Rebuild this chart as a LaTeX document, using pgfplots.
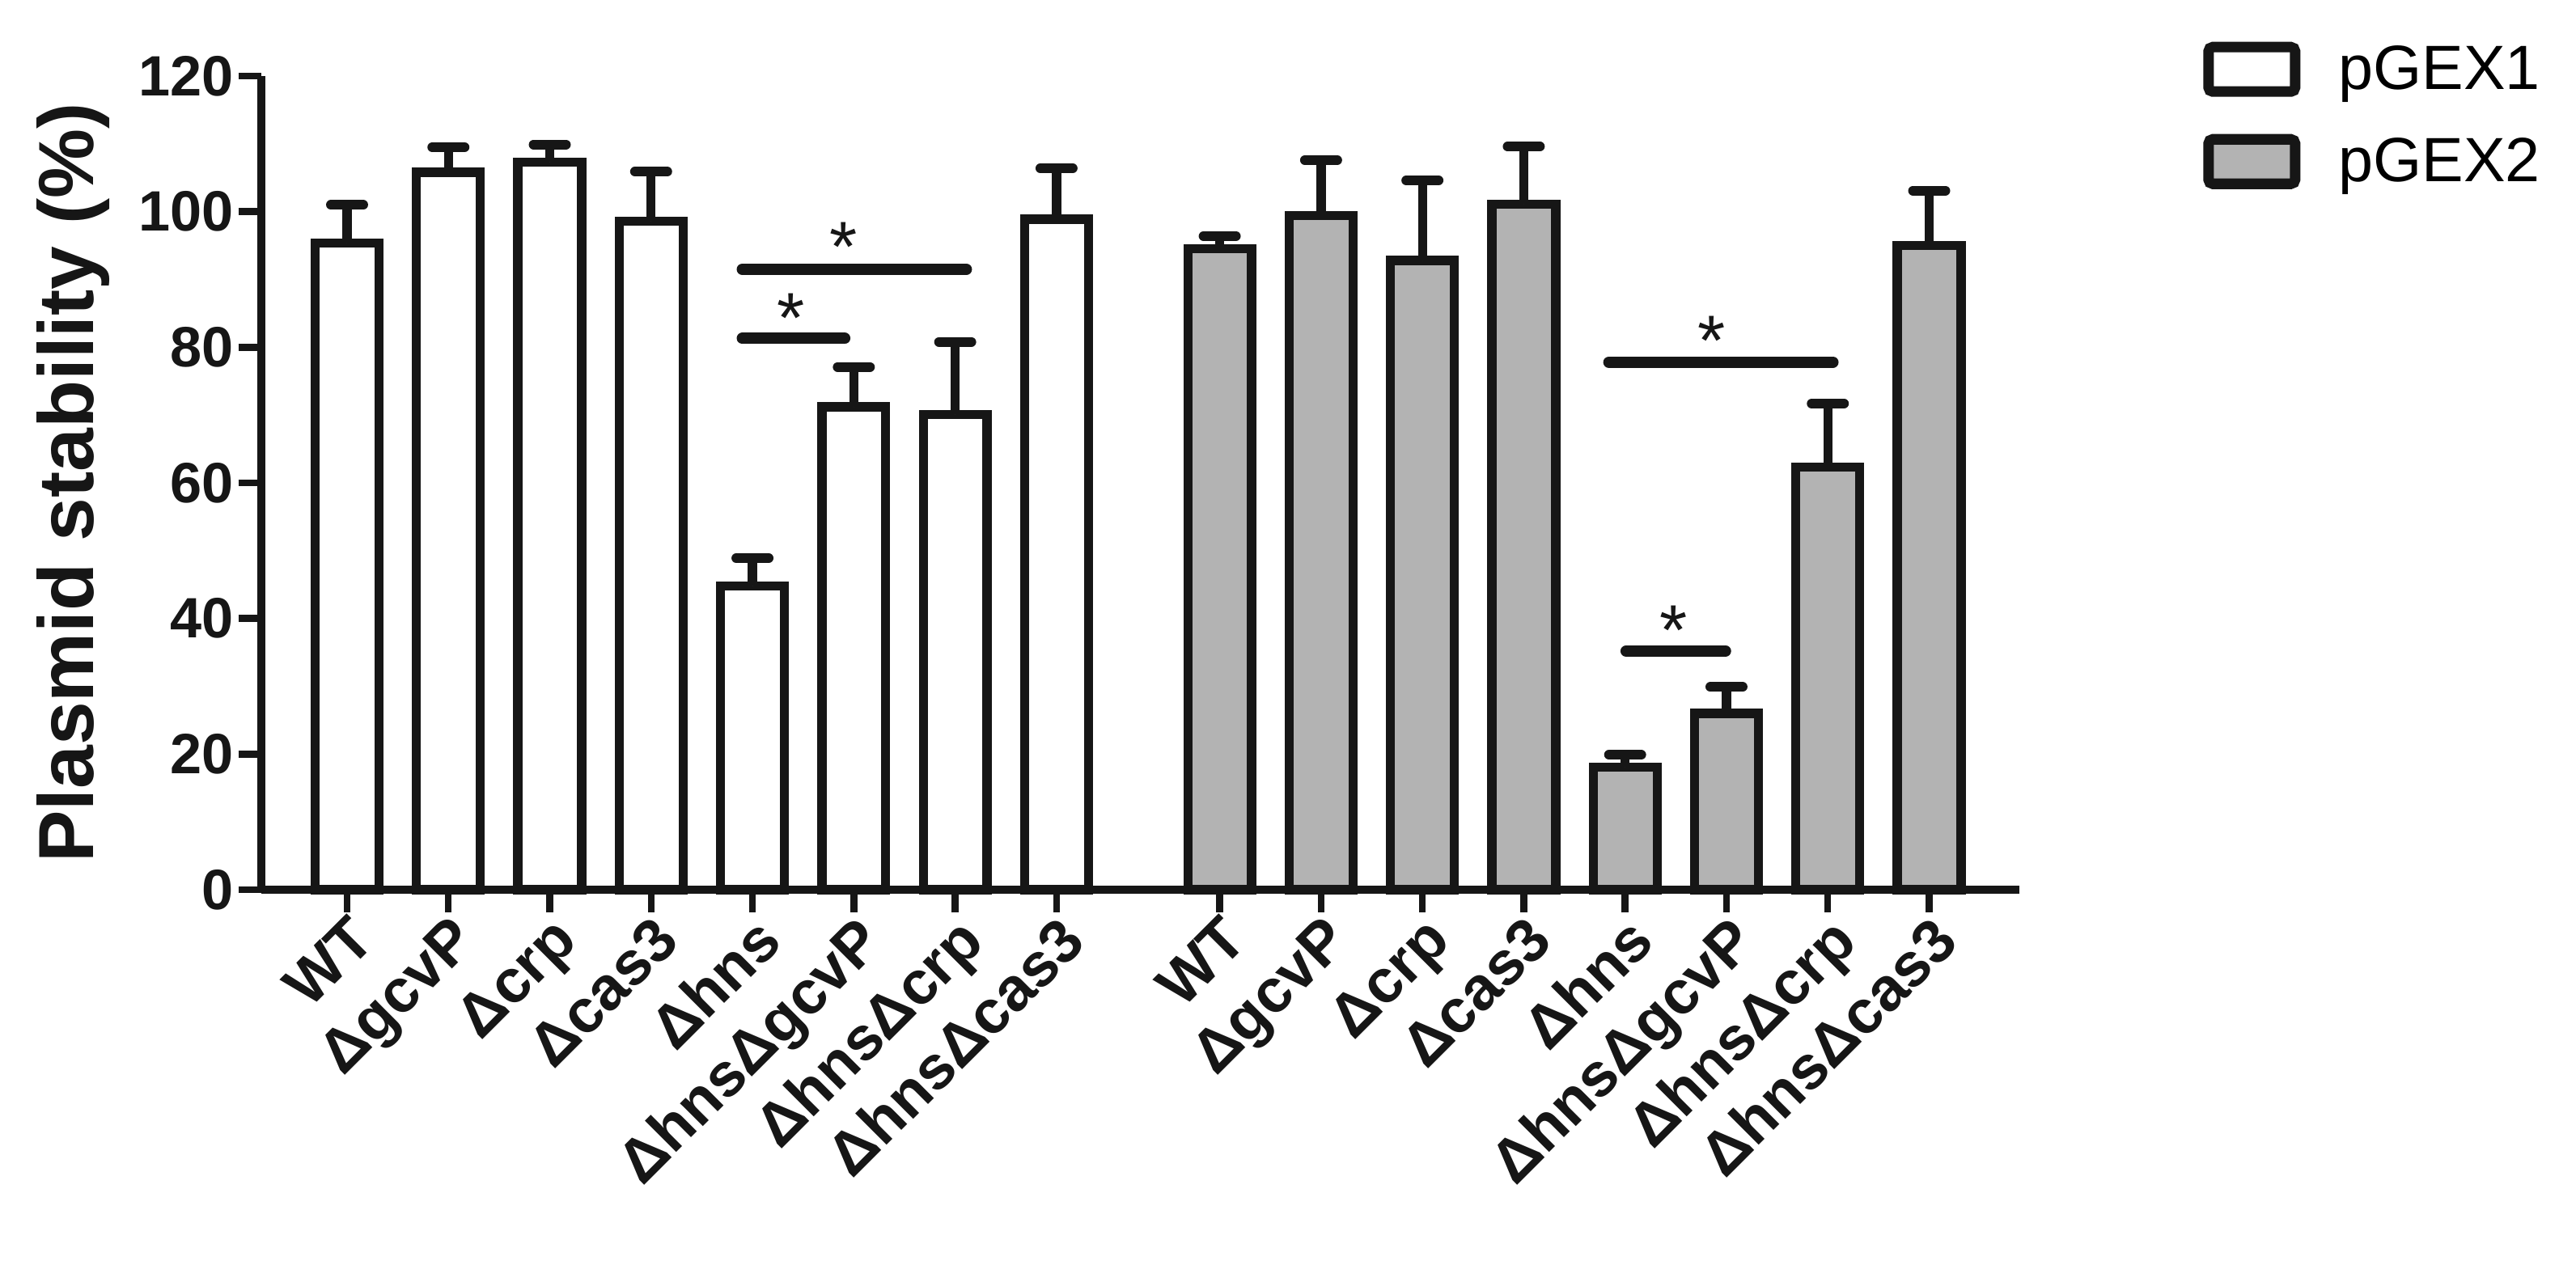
\documentclass[border=0pt]{standalone}
\usepackage{fontspec}
\setmainfont{Liberation Sans}
\usepackage{pgfplots}
\pgfplotsset{compat=1.18}
\usepackage{pgfplotstable}
\definecolor{bargray}{RGB}{179,179,179}
\definecolor{ink}{RGB}{22,22,22}

\pgfplotstableread{
x y e
0 95.4 5.6
1 105.8 3.7
2 107.3 2.6
3 98.6 7.3
4 44.8 4.1
5 71.2 5.9
6 70.1 10.7
7 98.9 7.5
}\pgexone

\pgfplotstableread{
x y e
8.61 94.5 1.9
9.61 99.4 8.2
10.61 92.8 11.8
11.61 101.1 8.5
12.61 18.1 1.8
13.61 26.0 3.9
14.61 62.3 9.4
15.61 95.0 8.1
}\pgextwo

\begin{document}
\begin{tikzpicture}
\begin{axis}[
  at={(3.23cm,4.63cm)}, anchor=south west,
  scale only axis, width=21.73cm, height=10.06cm,
  xmin=-0.846, xmax=16.5, ymin=0, ymax=120,
  clip=false,
  axis x line=bottom, axis y line=left,
  axis line style={-, line width=2.6pt, draw=ink},
  ytick={0,20,40,60,80,100,120},
  xtick={0,1,2,3,4,5,6,7,8.61,9.61,10.61,11.61,12.61,13.61,14.61,15.61},
  xticklabels={WT,ΔgcvP,Δcrp,Δcas3,Δhns,ΔhnsΔgcvP,ΔhnsΔcrp,ΔhnsΔcas3,WT,ΔgcvP,Δcrp,Δcas3,Δhns,ΔhnsΔgcvP,ΔhnsΔcrp,ΔhnsΔcas3},
  tick align=outside, major tick length=0.28cm,
  tick style={line width=2.4pt, draw=ink},
  /pgf/number format/assume math mode=true,
  yticklabel style={font=\bfseries\fontsize{20}{22}\selectfont, inner sep=0pt, xshift=-0.06cm, text=ink},
  xticklabel style={font=\bfseries\fontsize{21.5}{24}\selectfont, rotate=45, anchor=north east, inner sep=0pt, text=ink},
  ylabel={Plasmid stability (\%)},
  ylabel style={font=\bfseries\fontsize{27.5}{30}\selectfont, at={(axis description cs:-0.0953,0.5)}, anchor=base, text=ink},
  legend style={at={(axis description cs:1.1046,1.042)}, anchor=north west, draw=none, fill=none, inner sep=0pt, outer sep=0pt,
    font=\fontsize{22}{26}\selectfont, row sep=0.46cm, nodes={inner sep=0pt},
    /tikz/every odd column/.append style={column sep=0.47cm}},
  legend cell align=left,
]
\addplot[ybar, bar width=0.63, bar shift=0pt, fill=white, draw=ink, line width=3.2pt,
  legend image code/.code={\draw[line width=3.7pt, rounded corners=1.5pt, draw=ink, fill=white] (0cm,-0.275cm) rectangle (1.07cm,0.275cm);},
  error bars/.cd, y dir=plus, y explicit,
  error bar style={line width=3.2pt, draw=ink},
  error mark options={rotate=90, line width=3.4pt, mark size=0.2cm, line cap=round, draw=ink}]
  table[x=x, y=y, y error=e] {\pgexone};
\addlegendentry{pGEX1}
\addplot[ybar, bar width=0.63, bar shift=0pt, fill=bargray, draw=ink, line width=3.2pt,
  legend image code/.code={\draw[line width=3.7pt, rounded corners=1.5pt, draw=ink, fill=bargray] (0cm,-0.275cm) rectangle (1.07cm,0.275cm);},
  error bars/.cd, y dir=plus, y explicit,
  error bar style={line width=3.2pt, draw=ink},
  error mark options={rotate=90, line width=3.4pt, mark size=0.2cm, line cap=round, draw=ink}]
  table[x=x, y=y, y error=e] {\pgextwo};
\addlegendentry{pGEX2}

% significance brackets
\addplot[forget plot, draw=ink, line width=4pt, line cap=round, mark=none] coordinates {(3.90,91.5) (6.11,91.5)};
\addplot[forget plot, draw=ink, line width=4pt, line cap=round, mark=none] coordinates {(3.90,81.3) (4.91,81.3)};
\addplot[forget plot, draw=ink, line width=4pt, line cap=round, mark=none] coordinates {(12.45,77.8) (14.66,77.8)};
\addplot[forget plot, draw=ink, line width=4pt, line cap=round, mark=none] coordinates {(12.62,35.2) (13.60,35.2)};
\node[anchor=north, inner sep=0pt, font=\fontsize{25}{28}\selectfont, text=ink] at (axis cs:4.90,98.5) {*};
\node[anchor=north, inner sep=0pt, font=\fontsize{25}{28}\selectfont, text=ink] at (axis cs:4.38,88.0) {*};
\node[anchor=north, inner sep=0pt, font=\fontsize{25}{28}\selectfont, text=ink] at (axis cs:13.46,84.7) {*};
\node[anchor=north, inner sep=0pt, font=\fontsize{25}{28}\selectfont, text=ink] at (axis cs:13.09,41.9) {*};
\end{axis}
\pgfresetboundingbox
\path[use as bounding box] (0,0) rectangle (31.84,15.63);
\end{tikzpicture}
\end{document}
